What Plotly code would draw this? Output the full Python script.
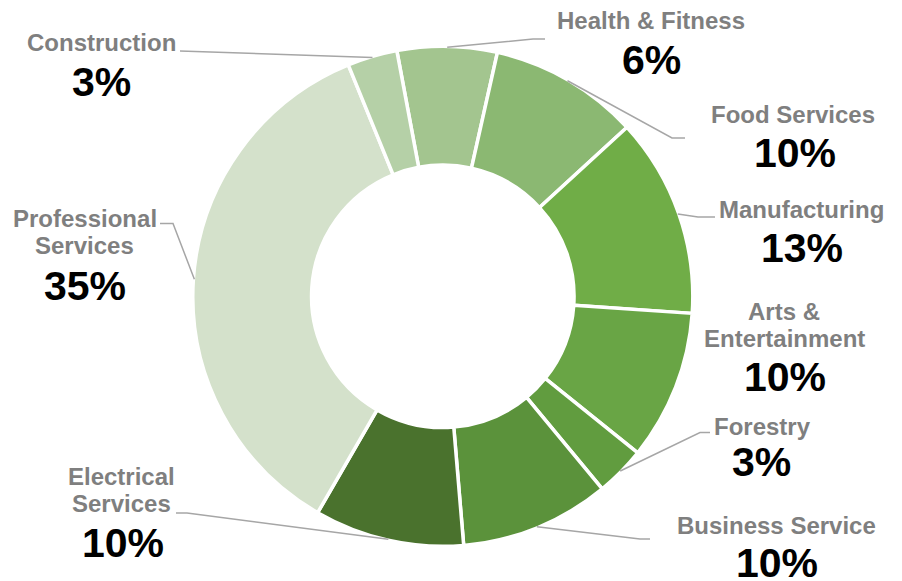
import math

import plotly.graph_objects as go

W, H = 902, 581

# Slices in clockwise order, starting just left of 12 o'clock
sectors = [
    "Health & Fitness",
    "Food Services",
    "Manufacturing",
    "Arts &<br>Entertainment",
    "Forestry",
    "Business Service",
    "Electrical<br>Services",
    "Professional<br>Services",
    "Construction",
]
# Counts per sector (31 in total); labels show the rounded share
counts = [2, 3, 4, 3, 1, 3, 3, 11, 1]
colors = [
    "#a3c58f",
    "#8bb872",
    "#70ad47",
    "#69a545",
    "#619c3f",
    "#5b923b",
    "#4a722d",
    "#d4e1cb",
    "#b5d0a7",
]

# Label layout (page pixels): first-line centre of the name, centre of the percentage
name_pos = [
    (650.5, 21), (793, 114.7), (801, 209.7), (784, 311.3), (762, 426),
    (776, 525), (121.5, 476.3), (84.5, 218), (101, 42.2),
]
pct_pos = [
    (651.3, 60.3), (794.5, 152.7), (801.7, 248.3), (785, 376.7), (761.5, 461.5),
    (776.5, 562.5), (122.5, 542.8), (84.7, 286), (101.5, 81.7),
]
# Leader line bend / end points (None = no leader line)
leader_pts = [
    [(533, 39), (545, 39)],
    [(672, 138), (685, 138)],
    [(698, 217), (715, 217)],
    None,
    [(700, 432.5), (710, 432.5)],
    [(640, 539), (650, 539)],
    [(187, 513), (176, 513)],
    [(173, 223.5), (160, 223.5)],
    [(180, 51)],
]

# Pie geometry in page pixels
CX, CY, R = 442.8, 296.3, 250
ROTATION = -10.6
LINE_H = 27.5
PAGE_MARGIN = 8  # default body margin of the html page


def paper(x, y):
    return (x - PAGE_MARGIN) / W, 1 - (y - PAGE_MARGIN) / H


fig = go.Figure(
    go.Pie(
        labels=[s.replace("<br>", " ") for s in sectors],
        values=counts,
        sort=False,
        direction="clockwise",
        rotation=ROTATION,
        hole=0.525,
        marker=dict(colors=colors, line=dict(color="white", width=3.5)),
        textinfo="none",
        hoverinfo="label+percent",
        domain=dict(
            x=[paper(CX - R, 0)[0], paper(CX + R, 0)[0]],
            y=[paper(0, CY + R)[1], paper(0, CY - R)[1]],
        ),
    )
)

total = sum(counts)
annotations = []
shapes = []
cum = 0
for i, (name, value) in enumerate(zip(sectors, counts)):
    mid = math.radians(ROTATION + 360 * (cum + value / 2) / total)
    cum += value

    nx, ny = name_pos[i]
    for j, line in enumerate(name.split("<br>")):
        px, py = paper(nx, ny + j * LINE_H)
        annotations.append(dict(
            x=px, y=py, xref="paper", yref="paper", text=line, showarrow=False,
            xanchor="center", yanchor="middle",
            font=dict(family="Arial, Liberation Sans, sans-serif", size=24,
                      color="#7f7f7f", weight="bold"),
        ))
    px, py = paper(*pct_pos[i])
    annotations.append(dict(
        x=px, y=py, xref="paper", yref="paper",
        text=f"{round(100 * value / total)}%", showarrow=False,
        xanchor="center", yanchor="middle",
        font=dict(family="Arial, Liberation Sans, sans-serif", size=41,
                  color="black", weight="bold"),
    ))

    if leader_pts[i]:
        r0 = R - 1
        pts = [(CX + r0 * math.sin(mid), CY - r0 * math.cos(mid))] + leader_pts[i]
        path = " L ".join("{:.5f},{:.5f}".format(*paper(x, y)) for x, y in pts)
        shapes.append(dict(
            type="path", xref="paper", yref="paper", path="M " + path,
            line=dict(color="#a6a6a6", width=1.5),
        ))

fig.update_layout(
    width=W,
    height=H,
    margin=dict(l=0, r=0, t=0, b=0),
    showlegend=False,
    paper_bgcolor="white",
    plot_bgcolor="white",
    annotations=annotations,
    shapes=shapes,
)

fig.write_html("out.html")
